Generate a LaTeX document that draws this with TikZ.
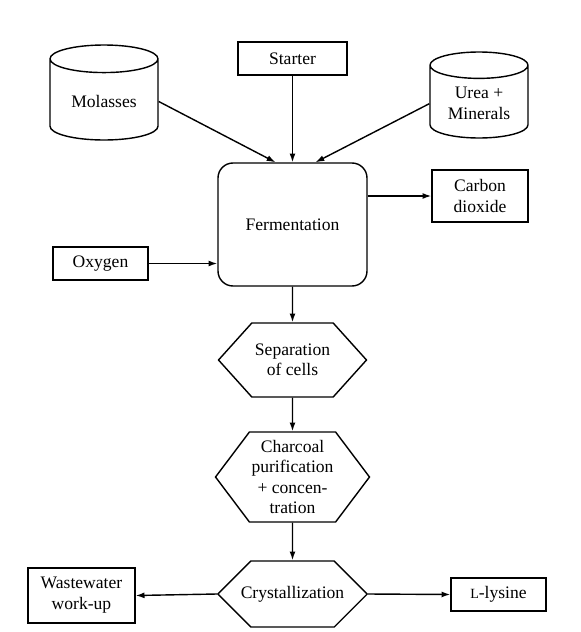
\documentclass[tikz,border=0pt]{standalone}
\usepackage{fontspec}
\setmainfont{Liberation Serif}
\usepackage{tikz}
\usetikzlibrary{shapes.geometric,shapes.symbols,arrows.meta,positioning,calc}

\begin{document}
\begin{tikzpicture}[
    feed/.style={cylinder, shape border rotate=90, draw, thick, aspect=0.4,
        align=center, inner sep=1pt, anchor=shape center},
    stream/.style={rectangle, draw, thick, align=center, inner sep=2pt},
    unitop/.style={signal, signal to=west and east, draw, thick, align=center,
        inner sep=1pt, font=\fontsize{10}{11.5}\selectfont},
    arr/.style={-{Latex[length=5pt,width=3.4pt]}, thick}
]
    \useasboundingbox (0,0) rectangle (11.6,-12.64);

    \node[feed, minimum width=2.16cm, minimum height=1.9cm] (mol) at (2.08,-1.85) {Molasses};
    \node[stream, minimum width=2.18cm, minimum height=0.66cm] (start) at (5.85,-1.17) {Starter};
    \node[feed, minimum width=1.96cm, minimum height=1.72cm] (urea) at (9.58,-1.9) {Urea +\\Minerals};

    \node[stream, rounded corners=0.3cm, minimum width=2.98cm, minimum height=2.46cm] (ferm) at (5.85,-4.49) {Fermentation};
    \node[stream, minimum width=1.9cm, minimum height=0.66cm] (oxy) at (2.01,-5.27) {Oxygen};
    \node[stream, minimum width=1.92cm, minimum height=1.04cm] (co2) at (9.6,-3.92) {Carbon\\dioxide};

    \node[unitop, signal pointer angle=96, minimum width=2.96cm, minimum height=1.48cm] (sep) at (5.85,-7.2) {Separation\\of cells};
    \node[unitop, signal pointer angle=106, minimum width=3.08cm, minimum height=1.8cm] (char) at (5.85,-9.54) {Charcoal\\purification\\+ concen-\\tration};
    \node[unitop, signal pointer angle=90, inner xsep=-0.2cm, minimum width=2.96cm, minimum height=1.32cm] (cryst) at (5.85,-11.88) {Crystallization};

    \node[stream, minimum width=2.14cm, minimum height=1.1cm] (waste) at (1.63,-11.91) {Wastewater\\work-up};
    \node[stream, minimum width=1.9cm, minimum height=0.66cm] (lys) at (9.97,-11.89) {{\footnotesize L}-lysine};

    \draw[arr] (mol.east) -- ([xshift=-0.34cm]ferm.north);
    \draw[arr] (start) -- (ferm);
    \draw[arr] (urea.west) -- ([xshift=0.46cm]ferm.north);
    \draw[arr] (oxy.east) -- (oxy.east -| ferm.west);
    \draw[arr] (ferm.east |- co2.west) -- (co2.west);

    \draw[arr] (ferm) -- (sep);
    \draw[arr] (sep) -- (char);
    \draw[arr] (char) -- (cryst);
    \draw[arr] (cryst.west) -- (waste.east);
    \draw[arr] (cryst.east) -- (lys.west);
\end{tikzpicture}
\end{document}
